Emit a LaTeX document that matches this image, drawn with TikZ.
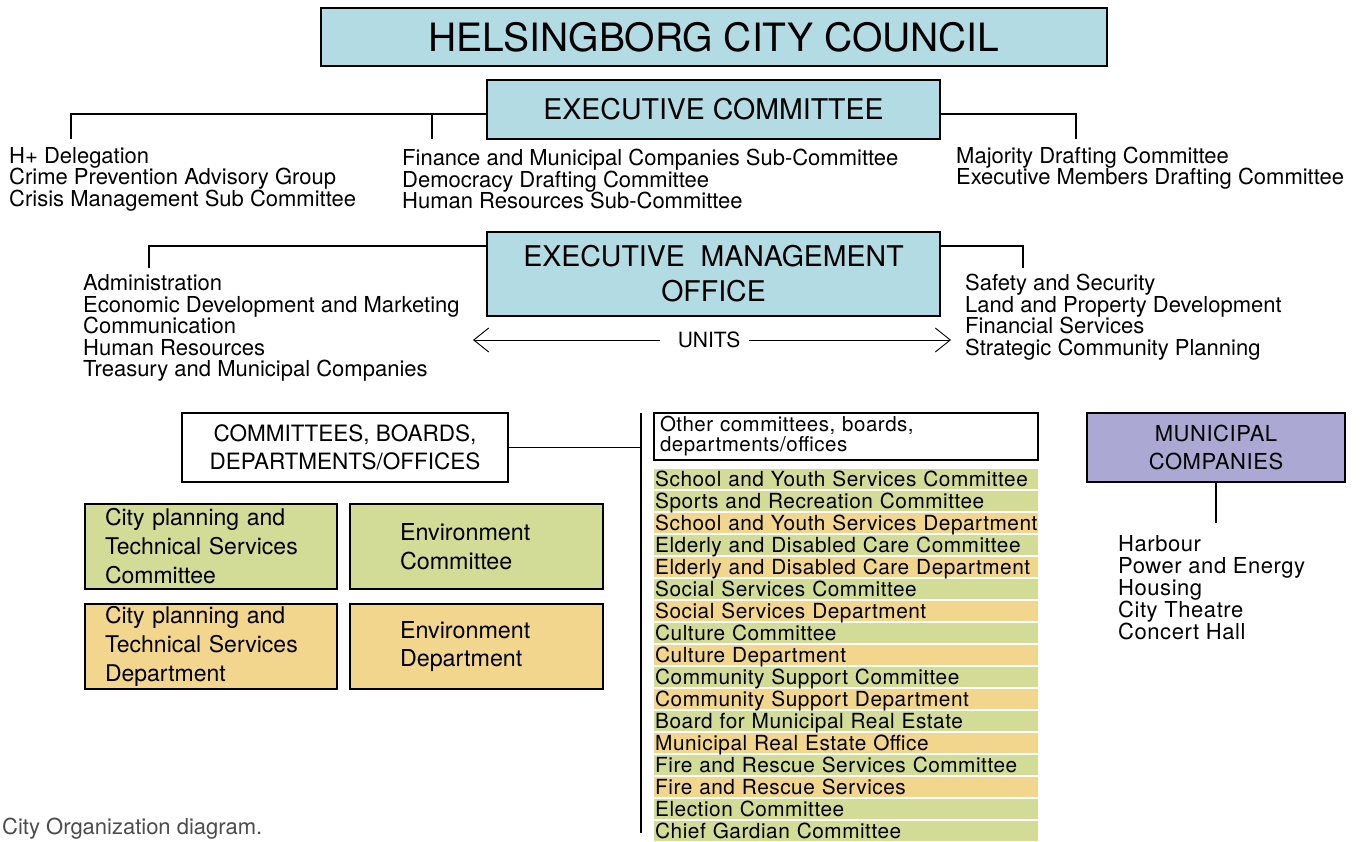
\documentclass[tikz,border=0pt]{standalone}
\usepackage{fontspec}
\setmainfont{TeX Gyre Heros}
\newfontfamily\widefont[LetterSpace=2.5]{TeX Gyre Heros}
\usetikzlibrary{arrows.meta}

\definecolor{councilblue}{RGB}{178,219,227}
\definecolor{cttegreen}{RGB}{210,220,150}
\definecolor{deptorange}{RGB}{243,214,142}
\definecolor{companylilac}{RGB}{172,168,212}

\begin{document}
\begin{tikzpicture}[x=1pt, y=-1pt,
	box/.style={draw, line width=1.8pt, inner sep=0pt, align=center},
	bluebox/.style={box, fill=councilblue, font=\fontsize{28.5}{35}\selectfont},
	listtext/.style={anchor=west, inner sep=0pt, align=left, font=\fontsize{22}{21.5}\selectfont},
	link/.style={line width=1.7pt},
	unitarrow/.style={line width=0.9pt, -{Straight Barb[length=15pt, width=24pt]}},
	rowbox/.style={anchor=north west, fill=#1, minimum width=384pt, text width=382pt,
		inner xsep=1pt, inner ysep=1pt, text height=16pt, text depth=2pt, align=left,
		font=\widefont\fontsize{20.8}{20}\selectfont}]
	\useasboundingbox (0,0) rectangle (1362,842);

	%%% Council and executive
	\node[bluebox, minimum width=786pt, minimum height=58pt, font=\fontsize{39}{44}\selectfont] (council) at (714,37) {HELSINGBORG CITY COUNCIL};
	\node[bluebox, minimum width=453pt, minimum height=59pt] (ecom) at (713.5,109.5) {EXECUTIVE COMMITTEE};
	\node[bluebox, minimum width=453pt, minimum height=84pt] (emo) at (713.5,274) {EXECUTIVE\ \ MANAGEMENT\\OFFICE};

	% Sub-committees
	\node[listtext] (hplus) at (9,179) {H+ Delegation\\Crime Prevention Advisory Group\\Crisis Management Sub Committee};
	\node[listtext] (finance) at (402,179) {Finance and Municipal Companies Sub-Committee\\Democracy Drafting Committee\\Human Resources Sub-Committee};
	\node[listtext] (majority) at (956,168) {Majority Drafting Committee\\Executive Members Drafting Committee};
	\coordinate (hplus drop) at (71,139);
	\coordinate (finance drop) at (432,139);
	\coordinate (majority drop) at (1076,139);
	\draw[link] ([yshift=-4.5pt]ecom.west) -| (hplus drop);
	\draw[link] (finance drop) -- ++(0,-25);
	\draw[link] ([yshift=-4.5pt]ecom.east) -| (majority drop);

	% Units
	\node[listtext] (admin) at (83,328) {Administration\\Economic Development and Marketing\\Communication\\Human Resources\\Treasury and Municipal Companies};
	\node[listtext] (safety) at (965,317) {Safety and Security\\Land and Property Development\\Financial Services\\Strategic Community Planning};
	\coordinate (admin drop) at (149,268);
	\coordinate (safety drop) at (1023,268);
	\draw[link] ([yshift=-15pt]emo.north west) -| (admin drop);
	\draw[link] ([yshift=-15pt]emo.north east) -| (safety drop);

	\node[inner sep=0pt, font=\fontsize{21}{22}\selectfont] (units) at (709,340) {UNITS};
	\coordinate (units left) at (473,340);
	\coordinate (units right) at (951,340);
	\draw[unitarrow] ([xshift=-18pt]units.west) -- (units left);
	\draw[unitarrow] ([xshift=9pt]units.east) -- (units right);

	%%% Committees, boards, departments
	\node[box, fill=white, minimum width=326pt, minimum height=69pt, font=\fontsize{22.5}{28}\selectfont] (cbd) at (345,447.5) {COMMITTEES, BOARDS,\\DEPARTMENTS/OFFICES};
	\node[box, fill=cttegreen, minimum height=85pt, text width=212pt, inner xsep=20pt, align=left, font=\fontsize{23}{29}\selectfont] (cpc) at (211,546.5) {City planning and\\Technical Services\\Committee};
	\node[box, fill=cttegreen, minimum height=85pt, text width=153pt, inner xsep=50pt, align=left, font=\fontsize{23.3}{28.5}\selectfont] (envc) at (476.5,546.5) {Environment\\Committee};
	\node[box, fill=deptorange, minimum height=85pt, text width=212pt, inner xsep=20pt, align=left, font=\fontsize{23}{29}\selectfont] (cpd) at (211,646.5) {City planning and\\Technical Services\\Department};
	\node[box, fill=deptorange, minimum height=85pt, text width=153pt, inner xsep=50pt, align=left, font=\fontsize{23.3}{28.5}\selectfont] (envd) at (476.5,646.5) {Environment\\Department};

	\coordinate (rail top) at (641,413);
	\coordinate (rail end) at (641,833);
	\draw[link] (rail top) -- (rail end);
	\draw[link] (cbd) -- (cbd -| rail top);

	% Other committees
	\node[box, fill=white, line width=1.4pt, minimum width=384pt, minimum height=47pt, text width=372pt, inner xsep=6pt, align=left, font=\widefont\fontsize{20.5}{20}\selectfont] (other) at (846,436.5) {Other committees, boards,\\departments/offices};
	\foreach \t/\c [count=\i] in {
		School and Youth Services Committee/cttegreen,
		Sports and Recreation Committee/cttegreen,
		School and Youth Services Department/deptorange,
		Elderly and Disabled Care Committee/cttegreen,
		Elderly and Disabled Care Department/deptorange,
		Social Services Committee/cttegreen,
		Social Services Department/deptorange,
		Culture Committee/cttegreen,
		Culture Department/deptorange,
		Community Support Committee/cttegreen,
		Community Support Department/deptorange,
		Board for Municipal Real Estate/cttegreen,
		Municipal Real Estate Office/deptorange,
		Fire and Rescue Services Committee/cttegreen,
		Fire and Rescue Services/deptorange,
		Election Committee/cttegreen,
		Chief Gardian Committee/cttegreen}
		\node[rowbox=\c] (row\i) at (654,{469+22*(\i-1)}) {\t};

	%%% Municipal companies
	\node[box, fill=companylilac, line width=1.4pt, minimum width=258pt, minimum height=69pt, font=\widefont\fontsize{22}{28}\selectfont] (mc) at (1216,447.5) {MUNICIPAL\\COMPANIES};
	\node[listtext, font=\widefont\fontsize{22}{22}\selectfont] (harbour) at (1118,588) {Harbour\\Power and Energy\\Housing\\City Theatre\\Concert Hall};
	\coordinate (harbour drop) at (1216,523);
	\draw[link] (mc) -- (harbour drop);

	\node[anchor=west, inner sep=0pt, text=black!70, font=\fontsize{22}{22}\selectfont] (caption) at (2,829) {City Organization diagram.};
\end{tikzpicture}
\end{document}
